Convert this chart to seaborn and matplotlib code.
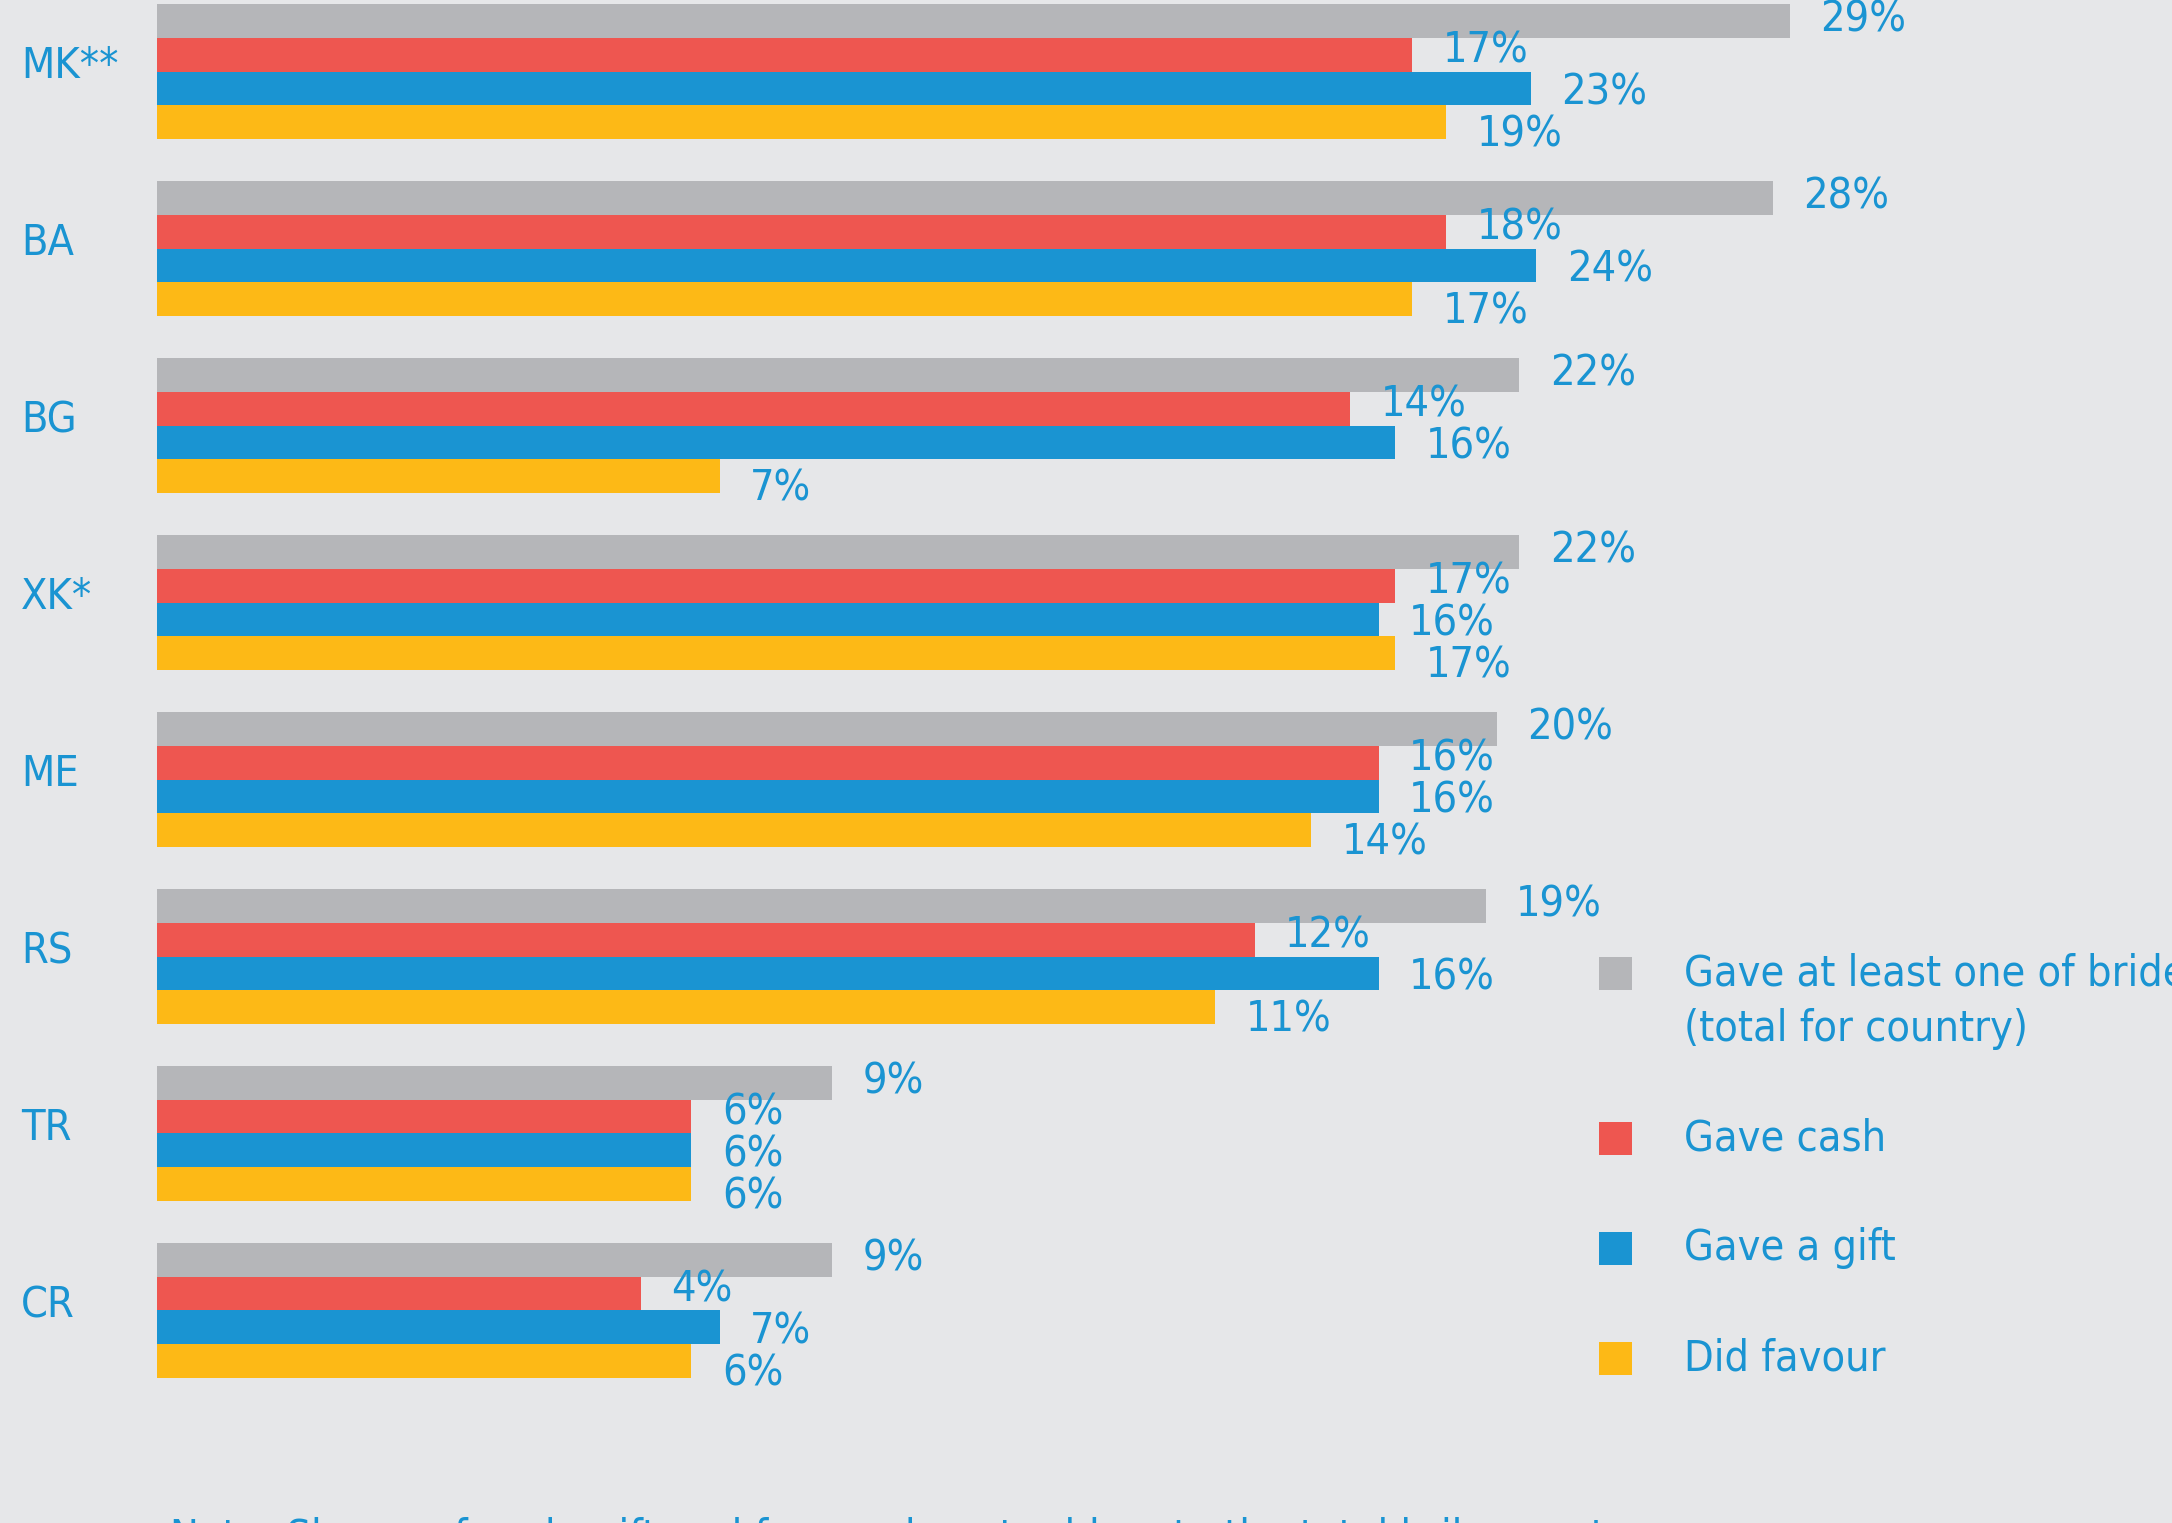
import glob
import numpy as np
import pandas as pd
import matplotlib
matplotlib.use("Agg")
import matplotlib.pyplot as plt
from matplotlib import font_manager as fm
from matplotlib.patches import Rectangle
from matplotlib.transforms import blended_transform_factory
import seaborn as sns

# ---------------- data ----------------
countries = ["MK**", "BA", "BG", "XK*", "ME", "RS", "TR", "CR"]
series = ["Gave at least one of bride\n(total for country)", "Gave cash", "Gave a gift", "Did favour"]

# bar lengths as drawn in the picture (percent scale)
bar_total = [29.0, 28.7, 24.2, 24.2, 23.8, 23.6, 12.0, 12.0]
bar_cash = [22.3, 22.9, 21.2, 22.0, 21.7, 19.5, 9.5, 8.6]
bar_gift = [24.4, 24.5, 22.0, 21.7, 21.7, 21.7, 9.5, 10.0]
bar_favour = [22.9, 22.3, 10.0, 22.0, 20.5, 18.8, 9.5, 9.5]

# printed value labels
pct_total = [29, 28, 22, 22, 20, 19, 9, 9]
pct_cash = [17, 18, 14, 17, 16, 12, 6, 4]
pct_gift = [23, 24, 16, 16, 16, 16, 6, 7]
pct_favour = [19, 17, 7, 17, 14, 11, 6, 6]

note_text = "Note: Shares of cash, gift and favour do not add up to the total bribery rate"

# ---------------- style ----------------
BG = "#e6e7e9"
TXT = "#1a94d2"
colors = ["#b5b6b9", "#ee5650", "#1a94d2", "#fdb916"]

sns.set_theme(style="white", rc={"axes.facecolor": BG, "figure.facecolor": BG})


def pick_font():
    cands = []
    for f in fm.fontManager.ttflist:
        n = f.fname.replace(" ", "")
        if "LiberationSansNarrow-Regular" in n:
            cands.append(f.fname)
    for pat in ["/usr/share/fonts/**/LiberationSansNarrow-Regular.ttf",
                "/usr/share/fonts/**/DejaVuSansCondensed.ttf"]:
        cands += glob.glob(pat, recursive=True)
    return cands[0] if cands else None


FONT_FILE = pick_font()


def fprop(size):
    if FONT_FILE:
        return fm.FontProperties(fname=FONT_FILE, size=size)
    return fm.FontProperties(family="Roboto", size=size)


FS = 31

df = pd.DataFrame({
    "country": countries * 4,
    "series": sum([[s] * len(countries) for s in series], []),
    "value": bar_total + bar_cash + bar_gift + bar_favour,
})

W, H = 2172, 1523
fig = plt.figure(figsize=(W / 100, H / 100), dpi=100)
fig.patch.set_facecolor(BG)
left = 156.5 / W
ax = fig.add_axes([left, 0, 1 - left, 1])
ax.set_facecolor(BG)

sns.barplot(data=df, x="value", y="country", hue="series", order=countries,
            hue_order=series, palette=colors, orient="h", width=0.763,
            saturation=1, gap=0, legend=False, ax=ax, linewidth=0,
            edgecolor="none")

ax.set_xlim(0, 35.79)
ax.set_ylim(8.201, -0.405)
for s in ax.spines.values():
    s.set_visible(False)
ax.set_xticks([])
ax.set_yticks([])
ax.set_xlabel("")
ax.set_ylabel("")

labels_all = [pct_total, pct_cash, pct_gift, pct_favour]
label_dy = [1, 3, -3, -9]   # vertical nudge of value labels per series (points)
for cont, labs, dy in zip(ax.containers, labels_all, label_dy):
    anns = ax.bar_label(cont, labels=[f"{v}%" for v in labs], padding=22,
                        color=TXT, fontproperties=fprop(FS))
    for a in anns:
        a.xyann = (a.xyann[0], dy)

# country labels
tr = blended_transform_factory(fig.transFigure, ax.transData)
for i, c in enumerate(countries):
    ax.text(20.8 / W, i - 0.03, c, transform=tr, ha="left", va="center",
            color=TXT, fontproperties=fprop(FS), clip_on=False)

# legend (manual)
sq = 33.0
leg_x = 1598.5
txt_x = 1684.0
centers = [973.8, 1138.6, 1248.0, 1358.9]
for k, (lab, col, cy) in enumerate(zip(series, colors, centers)):
    fig.add_artist(Rectangle((leg_x / W, 1 - (cy + sq / 2) / H), sq / W, sq / H,
                             transform=fig.transFigure, facecolor=col,
                             edgecolor="none"))
    if "\n" in lab:
        l1, l2 = lab.split("\n")
        fig.text(txt_x / W, 1 - cy / H, l1, ha="left", va="center",
                 color=TXT, fontproperties=fprop(FS))
        fig.text(txt_x / W, 1 - (cy + 55) / H, l2, ha="left", va="center",
                 color=TXT, fontproperties=fprop(FS))
    else:
        fig.text(txt_x / W, 1 - cy / H, lab, ha="left", va="center",
                 color=TXT, fontproperties=fprop(FS))

# bottom note (cut off by the lower edge)
fig.text(170 / W, 1 - 1517 / H, note_text, ha="left", va="top",
         color=TXT, fontproperties=fprop(FS))

fig.savefig("out.png", dpi=100, facecolor=BG)
